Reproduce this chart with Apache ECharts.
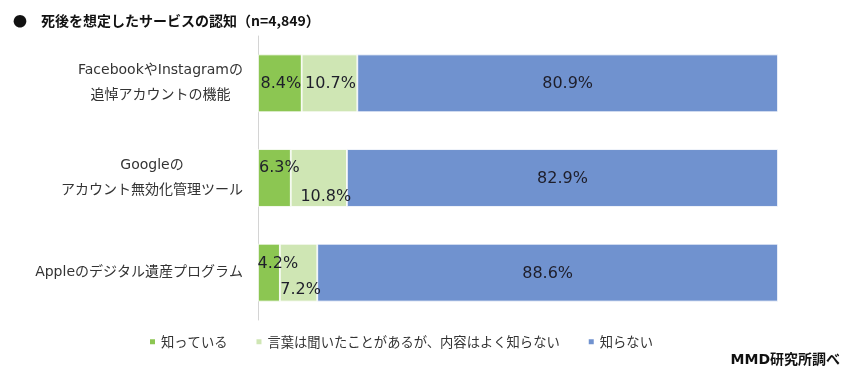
<!DOCTYPE html>
<html><head><meta charset="utf-8">
<script src="https://cdn.jsdelivr.net/npm/echarts@6/dist/echarts.min.js"></script>
<style>html,body{margin:0;padding:0;background:#fff}#c{width:848px;height:377px}</style>
</head><body><div id="c"></div>
<script>
var titleText = '●　死後を想定したサービスの認知（n=4,849）';
var sourceText = 'MMD研究所調べ';
var categories = [
  ['FacebookやInstagramの', '追悼アカウントの機能'],
  ['Googleの', 'アカウント無効化管理ツール'],
  ['Appleのデジタル遺産プログラム']
];
var seriesNames = ['知っている', '言葉は聞いたことがあるが、内容はよく知らない', '知らない'];
var known = [8.4, 6.3, 4.2];
var heard = [10.7, 10.8, 7.2];
var unknown = [80.9, 82.9, 88.6];

// label offsets (style only), Excel-like placement
var knownOffsets = [[1, 1], [5, -10], [9, -9]];
var heardOffsets = [[1, 1], [7, 19], [2, 17]];
var unknownOffsets = [[0, 1], [0, 1], [0, 1]];
var colors = ['#8cc652', '#cfe6b4', '#7092cf'];
var catFont = '"DejaVu Sans", "Noto Sans CJK JP"';

function mk(vals, offs) {
  return vals.map(function (v, i) {
    return { value: v, label: { offset: offs[i] } };
  });
}

var labelStyle = {
  show: true, position: 'inside', color: '#1e1e2a',
  fontFamily: 'DejaVu Sans', fontSize: 16,
  formatter: function (p) { return p.value.toFixed(1) + '%'; }
};

var chart = echarts.init(document.getElementById('c'), null, { renderer: 'canvas' });
chart.setOption({
  animation: false,
  title: {
    text: titleText, left: 8, top: 9,
    textStyle: { fontFamily: 'Noto Sans CJK JP', fontSize: 14, fontWeight: 'bold', color: '#111' }
  },
  graphic: [{
    type: 'text', right: 8, top: 353,
    style: { text: sourceText, font: 'bold 14px "DejaVu Sans", "Noto Sans CJK JP"', fill: '#111' }
  }],
  legend: {
    left: 143, top: 330, itemWidth: 7, itemHeight: 7, itemGap: 27,
    icon: 'rect',
    textStyle: { fontFamily: 'Noto Sans CJK JP', fontSize: 13.3, color: '#333' },
    data: seriesNames
  },
  grid: { left: 258, width: 520, top: 36, height: 284, containLabel: false },
  xAxis: { type: 'value', min: 0, max: 100, show: false },
  yAxis: {
    type: 'category', inverse: true,
    data: categories.map(function (c) { return c.join('\n'); }),
    axisLine: { show: true, lineStyle: { color: '#d4d4d4', width: 1 } },
    axisTick: { show: false },
    axisLabel: {
      margin: 15, align: 'right', color: '#333',
      fontFamily: catFont, fontSize: 14, lineHeight: 25,
      formatter: function (v) {
        return v.split('\n').map(function (s) { return '{a|' + s + '}'; }).join('\n');
      },
      rich: { a: { align: 'center', fontFamily: catFont, fontSize: 14, lineHeight: 25, color: '#333' } }
    }
  },
  series: [
    { name: seriesNames[0], type: 'bar', stack: 't', barWidth: '61%', data: mk(known, knownOffsets),
      itemStyle: { color: colors[0], borderColor: '#fff', borderWidth: 0.8 }, label: labelStyle },
    { name: seriesNames[1], type: 'bar', stack: 't', data: mk(heard, heardOffsets),
      itemStyle: { color: colors[1], borderColor: '#fff', borderWidth: 0.8 }, label: labelStyle },
    { name: seriesNames[2], type: 'bar', stack: 't', data: mk(unknown, unknownOffsets),
      itemStyle: { color: colors[2], borderColor: '#fff', borderWidth: 0.8 }, label: labelStyle }
  ]
});
</script>
</body></html>
